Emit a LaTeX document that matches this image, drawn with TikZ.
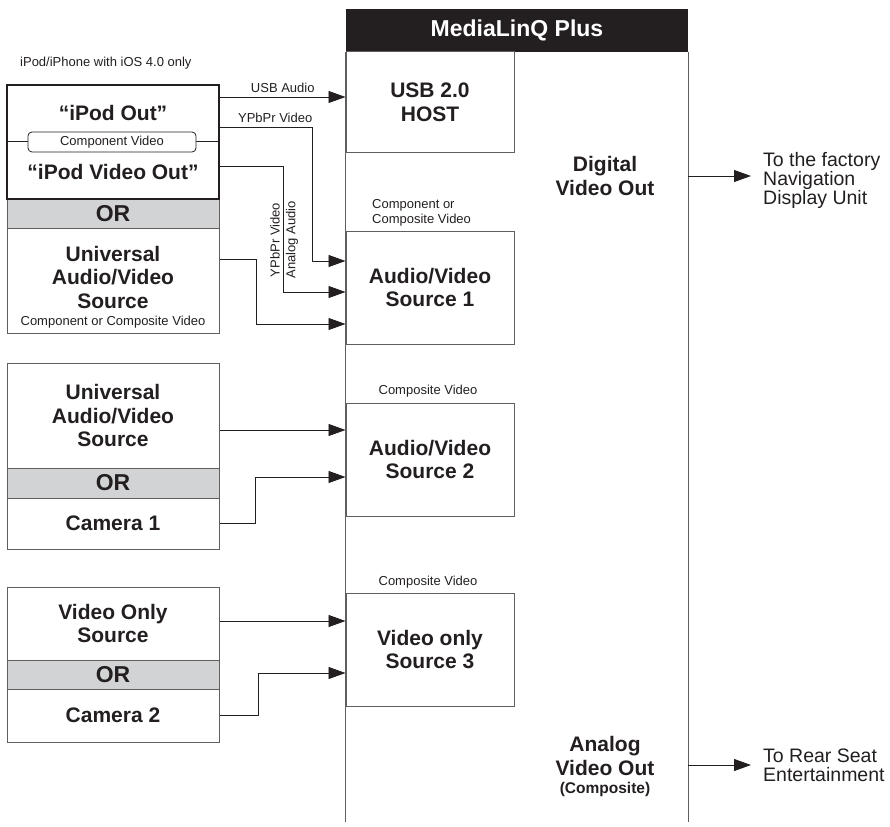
\documentclass[tikz,border=0pt]{standalone}
\usepackage{fontspec}
\setmainfont{Liberation Sans}
\usetikzlibrary{arrows.meta}
\definecolor{mlqgray}{RGB}{95,95,95}
\definecolor{mlqor}{RGB}{209,211,212}
\definecolor{mlqink}{RGB}{35,31,32}
\newcommand{\headfont}{\fontsize{21}{23.5}\selectfont\bfseries}
\newcommand{\tinyfont}{\fontsize{13}{15}\selectfont}
\newcommand{\sidefont}{\fontsize{19.5}{19}\selectfont}

\begin{document}
\begin{tikzpicture}[x=1pt,y=-1pt,
  srcbox/.style={draw=mlqgray, line width=1pt, fill=white, minimum width=212pt, inner sep=0pt, align=center, text=mlqink, font=\headfont},
  orbox/.style={srcbox, fill=mlqor, font=\fontsize{23}{25}\selectfont\bfseries},
  dstbox/.style={draw=mlqgray, line width=1pt, fill=white, minimum width=168pt, minimum height=113pt, inner sep=0pt, align=center, text=mlqink, font=\headfont},
  head/.style={align=center, text=mlqink, font=\headfont, inner sep=0pt},
  lbl/.style={text=mlqink, font=\tinyfont, inner sep=0pt},
  side/.style={align=left, anchor=west, text=mlqink, font=\sidefont, inner sep=0pt},
  conn/.style={draw=mlqink, line width=0.9pt, -{Triangle[length=17pt,width=12pt]}}]
\useasboundingbox (0,0) rectangle (890,826);

\node[lbl, anchor=west] (ios) at (20,63) {iPod/iPhone with iOS 4.0 only};

\node[orbox, minimum height=29pt] (or1) at (113,213.5) {OR};
\node[srcbox, minimum height=105pt] (uav1) at (113,280.5) {};
\node[head] (uav1txt) at (113,277) {Universal\\Audio/Video\\Source};
\node[lbl] (uav1sub) at (113,322) {Component or Composite Video};
\node[srcbox, draw=mlqink, line width=2pt, minimum height=114pt] (ipod) at (113,142) {};
\draw[draw=mlqink, line width=1pt] (ipod.west) -- (ipod.east);
\node[lbl, draw=mlqink, line width=0.8pt, fill=white, rounded corners=4pt, minimum width=168pt, minimum height=20pt] (comp) at (112,142) {Component Video};
\node[head] (ipodout) at (113,113) {“iPod Out”};
\node[head] (ipodvid) at (113,172) {“iPod Video Out”};

\node[srcbox, minimum height=105pt] (uav2) at (113,415.5) {Universal\\Audio/Video\\Source};
\node[orbox, minimum height=30pt] (or2) at (113,483) {OR};
\node[srcbox, minimum height=51pt] (cam1) at (113,523.5) {Camera 1};

\node[srcbox, minimum height=73pt] (vos) at (113,623.5) {Video Only\\Source};
\node[orbox, minimum height=29pt] (or3) at (113,674.5) {OR};
\node[srcbox, minimum height=53pt] (cam2) at (113,715.5) {Camera 2};

\node[fill=mlqink, minimum width=342pt, minimum height=43pt, inner sep=0pt, text=white, font=\fontsize{23}{25}\selectfont\bfseries] (media) at (517,30.5) {MediaLinQ Plus};
\draw[draw=mlqgray, line width=1pt] (media.south west) -- ++(0,770);
\draw[draw=mlqgray, line width=1pt] (media.south east) -- ++(0,770);

\node[dstbox, minimum height=101pt] (usbhost) at (430,102.5) {USB 2.0\\HOST};
\node[dstbox] (avs1) at (430,287.5) {Audio/Video\\Source 1};
\node[dstbox] (avs2) at (430,459.5) {Audio/Video\\Source 2};
\node[dstbox] (avs3) at (430,649.5) {Video only\\Source 3};

\node[lbl, align=left, anchor=west] (avs1lbl) at (372,212.5) {Component or\\Composite Video};
\node[lbl] (avs2lbl) at (428,391) {Composite Video};
\node[lbl] (avs3lbl) at (428,582) {Composite Video};

\node[head] (digout) at (605,176) {Digital\\Video Out};
\node[head] (anout) at (605,756) {Analog\\Video Out};
\node[head, font=\fontsize{15.5}{17}\selectfont\bfseries] (ancomp) at (605,789) {(Composite)};

\node[side] (nav) at (763,180) {To the factory\\Navigation\\Display Unit};
\node[side] (rse) at (763,765) {To Rear Seat\\Entertainment};

\draw[conn] (ipod.east |- 0,97) -- node[lbl, above=4pt] {USB Audio} (usbhost.west |- 0,97);
\draw[conn] (ipod.east |- 0,127) -| node[lbl, above=4pt, pos=.3] {YPbPr Video} (312,261) -- (avs1.west |- 0,261);
\draw[conn] (ipod.east |- 0,166) -| (283,292) -- (avs1.west |- 0,292);
\draw[conn] (uav1.east |- 0,259) -| (256,324) -- (avs1.west |- 0,324);
\node[lbl, rotate=90] (ypbv) at (275,240) {YPbPr Video};
\node[lbl, rotate=90] (anaud) at (292,240) {Analog Audio};

\draw[conn] (uav2.east |- 0,430) -- (avs2.west |- 0,430);
\draw[conn] (cam1.east) -| (255,477) -- (avs2.west |- 0,477);
\draw[conn] (vos.east |- 0,621) -- (avs3.west |- 0,621);
\draw[conn] (cam2.east) -| (258,673) -- (avs3.west |- 0,673);

\draw[conn] (media.east |- digout) -- ([xshift=-12pt]nav.west |- digout);
\draw[conn] (media.east |- 0,765) -- ([xshift=-12pt]rse.west);
\end{tikzpicture}
\end{document}
